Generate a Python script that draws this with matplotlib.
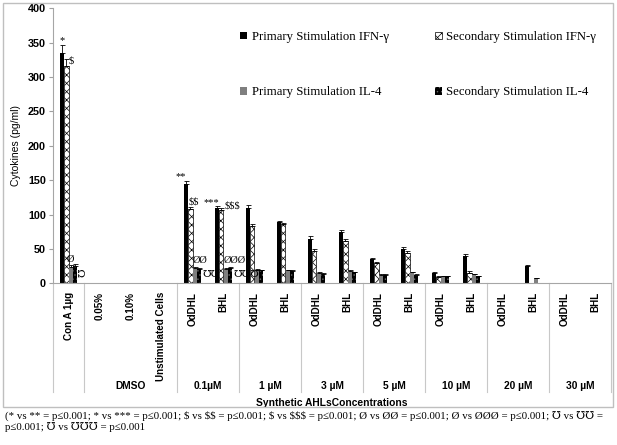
import matplotlib
matplotlib.use("Agg")
import matplotlib.pyplot as plt
import numpy as np
from matplotlib.patches import Rectangle

plt.rcParams["font.family"] = ["Liberation Sans", "DejaVu Sans"]
plt.rcParams["hatch.linewidth"] = 0.5
plt.rcParams["text.parse_math"] = False

# data
categories = ["Con A 1µg", "0.05%", "0.10%", "Unstimulated Cells",
              "OdDHL", "BHL", "OdDHL", "BHL", "OdDHL", "BHL", "OdDHL", "BHL",
              "OdDHL", "BHL", "OdDHL", "BHL", "OdDHL", "BHL"]
groups = ["DMSO", "0.1µM", "1 µM", "3 µM", "5 µM", "10 µM", "20 µM", "30 µM"]
group_spans = [(1, 3), (4, 5), (6, 7), (8, 9), (10, 11), (12, 13), (14, 15), (16, 17)]

prim_ifn = [335, 0, 0, 0, 145, 110, 110, 89, 64, 75, 35, 50, 14.5, 39, 0, 25, 0, 0]
sec_ifn = [316, 0, 0, 0, 108, 107, 83, 86, 47, 61.5, 29, 44, 9, 15, 0, 0, 0, 0]
prim_il4 = [24, 0, 0, 0, 22, 21, 20, 19, 15, 18, 12.5, 16, 10, 13, 0, 7, 0, 0]
sec_il4 = [25, 0, 0, 0, 21, 22, 19, 18, 13.5, 16, 12, 12, 10, 10, 0, 0, 0, 0]

prim_ifn_err = [12, 0, 0, 0, 4, 3, 4, 2, 5, 3, 2, 3, 2, 4, 0, 2, 0, 0]
sec_ifn_err = [10, 0, 0, 0, 3, 2, 3, 2, 3, 3, 2, 3, 2, 3, 0, 0, 0, 0]
prim_il4_err = [2, 0, 0, 0, 2, 1, 1, 1, 1, 1, 1, 1, 1, 1, 0, 0, 0, 0]
sec_il4_err = [3, 0, 0, 0, 1, 1, 1, 1, 1, 1, 1, 1, 1, 1, 0, 0, 0, 0]

series = [
    ("Primary Stimulation IFN-γ", prim_ifn, prim_ifn_err, dict(color="black")),
    ("Secondary Stimulation IFN-γ", sec_ifn, sec_ifn_err,
     dict(facecolor="white", edgecolor="black", hatch="xxxx", linewidth=0.5)),
    ("Primary Stimulation IL-4", prim_il4, prim_il4_err, dict(color="#7f7f7f")),
    ("Secondary Stimulation IL-4", sec_il4, sec_il4_err,
     dict(facecolor="black", edgecolor="#6a6a6a", hatch="....", linewidth=0)),
]

footnote = ("(* vs ** = p≤0.001; * vs *** = p≤0.001; $ vs $$ = p≤0.001; $ vs $$$ = p≤0.001; "
            "Ø vs ØØ = p≤0.001; Ø vs ØØØ = p≤0.001; ℧ vs ℧℧ =\np≤0.001; ℧ vs ℧℧℧ = p≤0.001")

fig = plt.figure(figsize=(6.17, 4.45), dpi=100)
ax = fig.add_axes([53 / 617, 1 - 283.3 / 445, 558 / 617, 275 / 445])

x = np.arange(len(categories))
w = 0.14
handles = []
for j, (label, vals, errs, style) in enumerate(series):
    pos = x + (j - 1.5) * w
    b = ax.bar(pos, vals, width=w, label=label, **style)
    handles.append(b)
    v = np.array(vals, dtype=float)
    e = np.array(errs, dtype=float)
    m = v > 0
    ax.errorbar(pos[m], v[m], yerr=[np.zeros(m.sum()), e[m]], fmt="none",
                ecolor="black", elinewidth=0.6, capsize=1.8, capthick=0.6)

ax.set_xlim(-0.5, len(categories) - 0.5)
ax.set_ylim(0, 400)
ax.set_yticks(range(0, 401, 50))
ax.tick_params(axis="y", labelsize=7.8, length=3, color="#a0a0a0", pad=2)
for t in ax.get_yticklabels():
    t.set_fontweight("bold")
ax.set_xticks(x)
ax.set_xticklabels(categories, rotation=90, fontsize=7.1, fontweight="bold", va="top")
ax.tick_params(axis="x", length=0, pad=6)
ax.set_ylabel("Cytokines (pg/ml)", fontsize=7.5, labelpad=5)
for s in ["top", "right"]:
    ax.spines[s].set_visible(False)
for s in ["left", "bottom"]:
    ax.spines[s].set_color("#a6a6a6")
    ax.spines[s].set_linewidth(0.8)

# multi-level category axis
trans = ax.get_xaxis_transform()
for b in [-0.5, 0.5, 3.5, 5.5, 7.5, 9.5, 11.5, 13.5, 15.5, 17.5]:
    ax.plot([b, b], [0, -0.396], transform=trans, color="#c8c8c8", lw=0.8, clip_on=False)
for g, (a, b) in zip(groups, group_spans):
    ax.text((a + b) / 2, -0.375, g, transform=trans, ha="center", va="center",
            fontsize=7.4, fontweight="bold")
ax.text(0.5, -0.434, "Synthetic AHLsConcentrations", transform=ax.transAxes,
        ha="center", va="center", fontsize=7.4, fontweight="bold")

# significance marks
sym = dict(fontsize=7.5, family=["Liberation Serif", "DejaVu Serif", "DejaVu Sans"])
ax.text(0 - 1.5 * w, prim_ifn[0] + prim_ifn_err[0], "*", ha="center", va="bottom", **sym)
ax.text(0 - 0.5 * w + w / 2, sec_ifn[0] + sec_ifn_err[0] - 2, "$", ha="left", va="center", **sym)
ax.text(0 + 0.5 * w, prim_il4[0] + prim_il4_err[0] + 2, "Ø", ha="center", va="bottom", **sym)
ax.text(0 + 2 * w + 0.03, sec_il4[0] - 9, "℧", ha="left", va="center", rotation=90, **sym)
ax.text(4 - 1.5 * w, prim_ifn[4] + prim_ifn_err[4], "**", ha="right", va="bottom", **sym)
ax.text(4 - w, sec_ifn[4] + sec_ifn_err[4], "$$", ha="left", va="bottom", **sym)
ax.text(4, prim_il4[4] + prim_il4_err[4] + 2, "ØØ", ha="left", va="bottom", **sym)
ax.text(4 + 2 * w + 0.03, 13, "℧℧", ha="left", va="center", **sym)
ax.text(5 - w, prim_ifn[5] + prim_ifn_err[5] - 2, "***", ha="right", va="bottom", **sym)
ax.text(5 + 0.03, sec_ifn[5] + sec_ifn_err[5] - 3, "$$$", ha="left", va="bottom", **sym)
ax.text(5, prim_il4[5] + prim_il4_err[5] + 4, "ØØØ", ha="left", va="bottom", **sym)
ax.text(5 + 2 * w + 0.03, 13, "℧℧℧", ha="left", va="center", **sym)

fig.legend(handles=[handles[0], handles[2], handles[1], handles[3]],
           labels=[series[0][0], series[2][0], series[1][0], series[3][0]],
           ncol=2, loc="upper left", bbox_to_anchor=(240 / 617, 1 - 31 / 445),
           frameon=False, borderpad=0, borderaxespad=0,
           prop=dict(family="Liberation Serif", size=9.2),
           handlelength=0.55, handleheight=0.55, handletextpad=0.35,
           labelspacing=3.4, columnspacing=3.6)

fig.patches.append(Rectangle((3 / 617, 1 - 407 / 445), 610 / 617, 404 / 445,
                             transform=fig.transFigure, fill=False,
                             edgecolor="#bfbfbf", lw=1))
fig.text(5 / 617, 1 - 411 / 445, footnote, ha="left", va="top", fontsize=7.8,
         family=["Liberation Serif", "DejaVu Serif", "DejaVu Sans"], linespacing=1.1)

fig.savefig("out.png", dpi=100)
